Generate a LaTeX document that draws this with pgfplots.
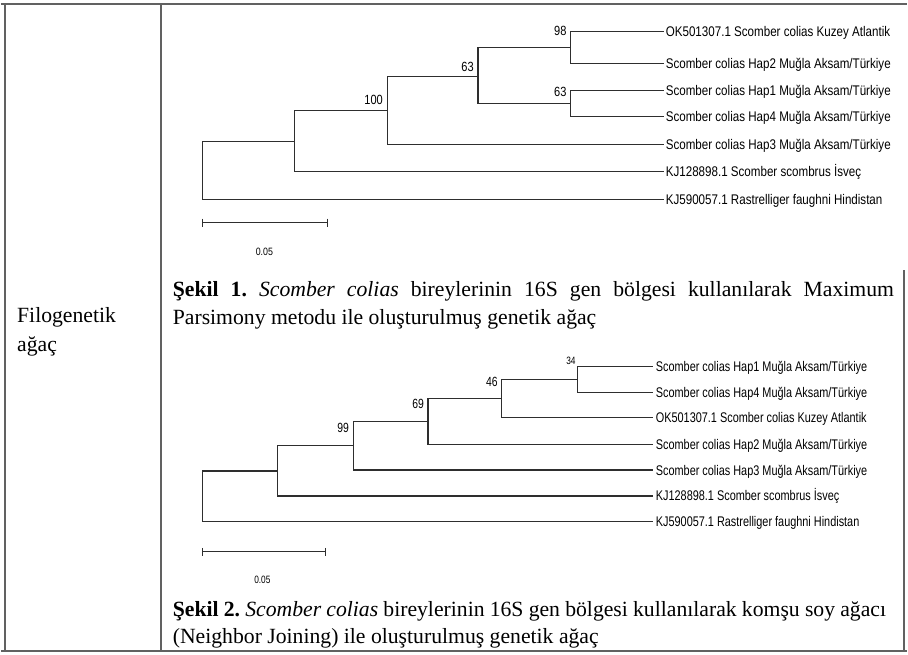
\documentclass[border=0pt]{standalone}
\usepackage{fontspec}
\setmainfont{Liberation Serif}
\newfontfamily\treefont[FakeStretch=0.83]{Liberation Sans}
\newfontfamily\treefontb[FakeStretch=0.78]{Liberation Sans}
\usepackage{pgfplots}
\pgfplotsset{compat=1.18}
\tikzset{tree/.style={black!82, line width=0.85pt},
  tblborder/.style={black!62, line width=1.4pt}}
\frenchspacing
\begin{document}
\begin{tikzpicture}
\begin{axis}[
  hide axis, scale only axis, width=681pt, height=492pt,
  xmin=0, xmax=908, ymin=0, ymax=656, y dir=reverse,
  clip=false, no marks,
]
\draw[draw=none] (axis cs:0,0) rectangle (axis cs:908,656);
% ---------- table borders ----------
\draw[tblborder] (axis cs:0,4) -- (axis cs:908,4);
\draw[tblborder] (axis cs:0,652) -- (axis cs:908,652);
\draw[tblborder] (axis cs:4.5,4) -- (axis cs:4.5,652);
\draw[tblborder] (axis cs:160,4) -- (axis cs:160,652);
\draw[tblborder] (axis cs:905,271) -- (axis cs:905,652);
% ---------- tree 1 (Maximum Parsimony) ----------
\addplot[tree] coordinates {(664,32)(571,32)(571,64)(664,64)};
\addplot[tree] coordinates {(664,91)(571,91)(571,117)(664,117)};
\addplot[tree] coordinates {(571,48)(478,48)(478,104)(571,104)};
\addplot[tree] coordinates {(478,77)(387,77)(387,145)(664,145)};
\addplot[tree] coordinates {(387,111)(294,111)(294,172)(664,172)};
\addplot[tree] coordinates {(294,142)(202,142)(202,200)(664,200)};
% scale bar 1
\addplot[tree] coordinates {(202,223)(327,223)};
\addplot[tree] coordinates {(202,219)(202,227)};
\addplot[tree] coordinates {(327,219)(327,227)};
% ---------- tree 2 (Neighbor Joining) ----------
\addplot[tree] coordinates {(653,367)(578,367)(578,393)(653,393)};
\addplot[tree] coordinates {(578,380)(502,380)(502,418)(653,418)};
\addplot[tree] coordinates {(502,399)(428,399)(428,445)(653,445)};
\addplot[tree] coordinates {(428,422)(353,422)(353,471)(653,471)};
\addplot[tree] coordinates {(353,446)(277,446)(277,497)(653,497)};
\addplot[tree] coordinates {(277,472)(202,472)(202,523)(653,523)};
% scale bar 2
\addplot[tree] coordinates {(202,553)(325,553)};
\addplot[tree] coordinates {(202,549)(202,557)};
\addplot[tree] coordinates {(325,549)(325,557)};
% ---------- tree 1 labels ----------
\begin{scope}[every node/.style={inner sep=0pt, anchor=base west, font=\treefont\fontsize{10.5}{12}\selectfont}]
\node at (axis cs:666,37) {OK501307.1 Scomber colias Kuzey Atlantik};
\node at (axis cs:666,69) {Scomber colias Hap2 Muğla Aksam/Türkiye};
\node at (axis cs:666,96) {Scomber colias Hap1 Muğla Aksam/Türkiye};
\node at (axis cs:666,122) {Scomber colias Hap4 Muğla Aksam/Türkiye};
\node at (axis cs:666,150) {Scomber colias Hap3 Muğla Aksam/Türkiye};
\node at (axis cs:666,177) {KJ128898.1 Scomber scombrus İsveç};
\node at (axis cs:666,205) {KJ590057.1 Rastrelliger faughni Hindistan};
\end{scope}
\begin{scope}[every node/.style={inner sep=0pt, anchor=base east, font=\treefont\fontsize{10}{12}\selectfont}]
\node at (axis cs:567,36) {98};
\node at (axis cs:567,97) {63};
\node at (axis cs:474,72) {63};
\node at (axis cs:383,105) {100};
\end{scope}
\node[inner sep=0pt, anchor=base, font=\treefont\fontsize{8}{9}\selectfont] at (axis cs:264,256) {0.05};
% ---------- tree 2 labels ----------
\begin{scope}[every node/.style={inner sep=0pt, anchor=base west, font=\treefontb\fontsize{10.5}{12}\selectfont}]
\node at (axis cs:656,372) {Scomber colias Hap1 Muğla Aksam/Türkiye};
\node at (axis cs:656,398) {Scomber colias Hap4 Muğla Aksam/Türkiye};
\node at (axis cs:656,423) {OK501307.1 Scomber colias Kuzey Atlantik};
\node at (axis cs:656,450) {Scomber colias Hap2 Muğla Aksam/Türkiye};
\node at (axis cs:656,476) {Scomber colias Hap3 Muğla Aksam/Türkiye};
\node at (axis cs:656,502) {KJ128898.1 Scomber scombrus İsveç};
\node at (axis cs:656,528) {KJ590057.1 Rastrelliger faughni Hindistan};
\end{scope}
\begin{scope}[every node/.style={inner sep=0pt, anchor=base east, font=\treefontb\fontsize{10}{12}\selectfont}]
\node[font=\treefontb\fontsize{8}{9}\selectfont] at (axis cs:576,365) {34};
\node at (axis cs:498,387.5) {46};
\node at (axis cs:424,409.5) {69};
\node at (axis cs:349,433.5) {99};
\end{scope}
\node[inner sep=0pt, anchor=base, font=\treefontb\fontsize{8}{9}\selectfont] at (axis cs:262,585) {0.05};
% ---------- table text ----------
\begin{scope}[every node/.style={inner sep=0pt, anchor=base west, font=\fontsize{16.3}{20}\selectfont}]
\node at (axis cs:16,323) {Filogenetik};
\node at (axis cs:16,352) {ağaç};
\node at (axis cs:172,297) {\makebox[542pt][s]{\textbf{Şekil 1.} \textit{Scomber colias} bireylerinin 16S gen bölgesi kullanılarak Maximum}};
\node at (axis cs:172,325) {Parsimony metodu ile oluşturulmuş genetik ağaç};
\node at (axis cs:172,618) {\makebox[536pt][s]{\textbf{Şekil 2.} \textit{Scomber colias} bireylerinin 16S gen bölgesi kullanılarak komşu soy ağacı}};
\node at (axis cs:172,645) {(Neighbor Joining) ile oluşturulmuş genetik ağaç};
\end{scope}
\end{axis}
\end{tikzpicture}
\end{document}
